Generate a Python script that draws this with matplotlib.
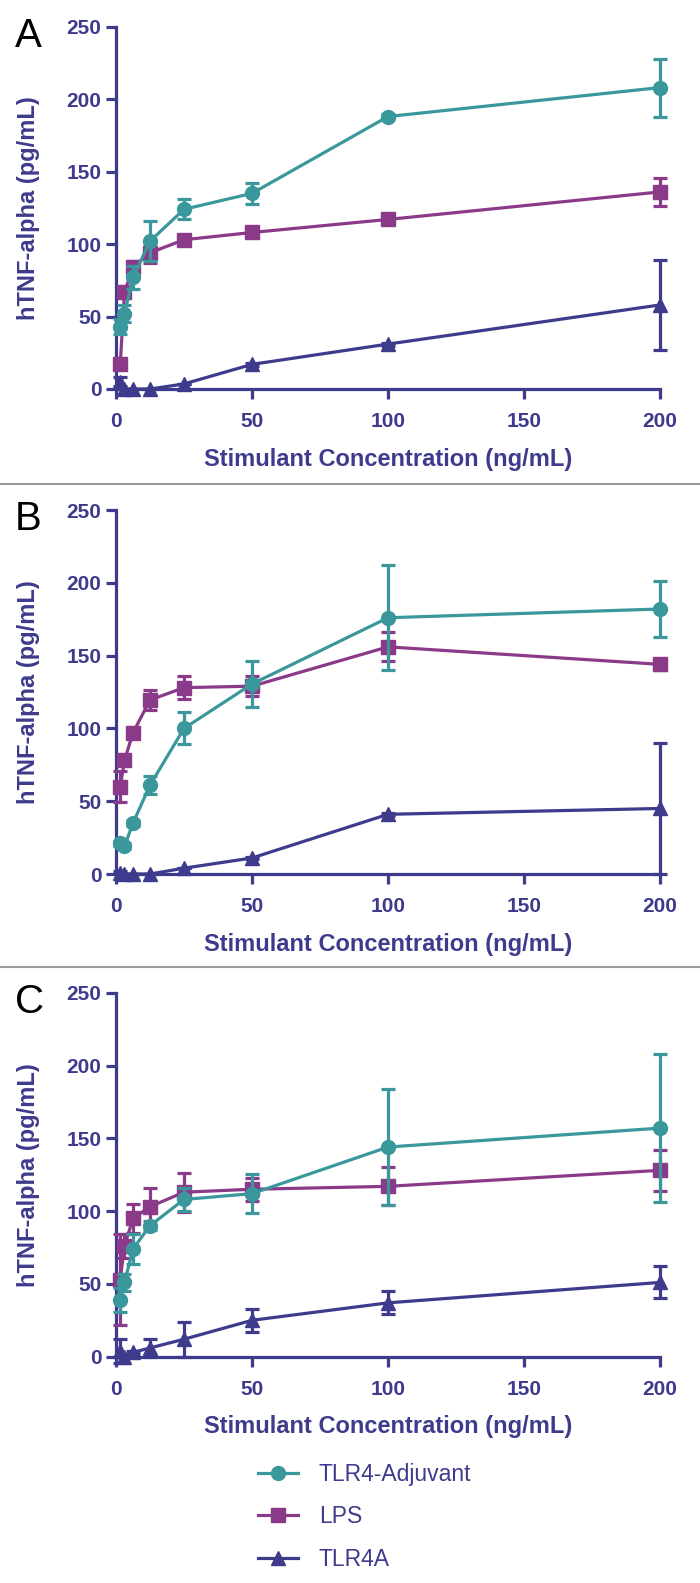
import matplotlib
matplotlib.use("Agg")
import matplotlib.pyplot as plt
from matplotlib.lines import Line2D

plt.rcParams['font.family'] = ['Liberation Sans', 'DejaVu Sans']

# ---------------- data ----------------
conc = [1.5625, 3.125, 6.25, 12.5, 25, 50, 100, 200]
series_names = ["TLR4-Adjuvant", "LPS", "TLR4A"]
panel_labels = ["A", "B", "C"]
x_ticks = [0, 50, 100, 150, 200]
y_ticks = [0, 50, 100, 150, 200, 250]

# Panel A
a_adj = [43, 52, 77, 102, 124, 135, 188, 208]
a_adj_err = [5, 6, 8, 14, 7, 7, 2, 20]
a_lps = [17, 67, 84, 94, 103, 108, 117, 136]
a_lps_err = [2, 3, 4, 7, 3, 2, 2, 9.5]
a_tlr = [5, 0, 0, 0, 3.5, 17, 31, 58]
a_tlr_err = [3, 0, 0, 0, 0, 1, 1, 31]

# Panel B
b_adj = [21, 19, 35, 61, 100, 130.5, 176, 182]
b_adj_err = [2, 2, 2, 6, 11, 16, 36, 19]
b_lps = [60, 78, 97, 119.5, 128, 129, 156, 144]
b_lps_err = [10.5, 3, 3, 7, 8, 7, 10, 4]
b_tlr = [1, 0, 0, 0, 4, 11, 41, 45]
b_tlr_err = [1, 0, 0, 0, 0, 1, 1, 45]

# Panel C
c_adj = [39, 51, 74, 90, 108, 112, 144, 157]
c_adj_err = [8, 6, 10, 3, 8, 13.5, 40, 51]
c_lps = [53, 76, 95, 103, 113, 115, 117, 128]
c_lps_err = [31, 8, 10, 13, 13.5, 8, 13, 14]
c_tlr = [4, 0, 3, 6, 12, 25, 37, 51]
c_tlr_err = [8, 0, 1, 6, 12, 8, 8, 11]

panels = [
    (a_adj, a_adj_err, a_lps, a_lps_err, a_tlr, a_tlr_err),
    (b_adj, b_adj_err, b_lps, b_lps_err, b_tlr, b_tlr_err),
    (c_adj, c_adj_err, c_lps, c_lps_err, c_tlr, c_tlr_err),
]

# ---------------- style ----------------
C_ADJ = '#3A979C'
C_LPS = '#8A3A88'
C_TLR = '#3E3B8C'
C_AX = '#3E3B8C'
W, H = 700, 1583

fig = plt.figure(figsize=(W / 100, H / 100), dpi=100)

geom = [(26.7, 389.0), (510.0, 874.0), (992.7, 1356.7)]
left_px, right_px = 116, 660
letter_base = [47, 530, 1013]

for i, ((adj, adj_e, lps, lps_e, tlr, tlr_e), (top, bot)) in enumerate(zip(panels, geom)):
    ax = fig.add_axes([left_px / W, 1 - bot / H, (right_px - left_px) / W, (bot - top) / H])
    ax.set_xlim(0, 200)
    ax.set_ylim(0, 250)
    for sp in ['top', 'right']:
        ax.spines[sp].set_visible(False)
    for sp in ['left', 'bottom']:
        ax.spines[sp].set_color(C_AX)
        ax.spines[sp].set_linewidth(2.3)
    ax.set_xticks(x_ticks)
    ax.set_yticks(y_ticks)
    ax.tick_params(axis='both', colors=C_AX, width=2.3, length=7.5,
                   labelsize=15)
    ax.tick_params(axis='x', pad=9)
    ax.tick_params(axis='y', pad=3)
    for lab in ax.get_xticklabels() + ax.get_yticklabels():
        lab.set_fontweight('bold')
        lab.set_color(C_AX)
    ax.set_xlabel("Stimulant Concentration (ng/mL)", fontsize=17,
                  fontweight='bold', color=C_AX, labelpad=12)

    common = dict(linewidth=2.3, elinewidth=2.3, capsize=5, capthick=2.3,
                  markersize=10, clip_on=False)
    ax.errorbar(conc, tlr, yerr=tlr_e, color=C_TLR, marker='^', zorder=3,
                **common)
    ax.errorbar(conc, lps, yerr=lps_e, color=C_LPS, marker='s', zorder=4,
                **common)
    ax.errorbar(conc, adj, yerr=adj_e, color=C_ADJ, marker='o', zorder=5,
                **common)

    fig.text(29 / W, 1 - ((top + bot) / 2) / H, "hTNF-alpha (pg/mL)",
             rotation=90, ha='center', va='center', fontsize=17,
             fontweight='bold', color=C_AX)
    fig.text(15 / W, 1 - letter_base[i] / H, panel_labels[i], fontsize=29,
             color='black', ha='left', va='baseline')

for ypx in [483.7, 967.3]:
    fig.add_artist(Line2D([0, 1], [1 - ypx / H, 1 - ypx / H],
                          transform=fig.transFigure, color='#9a9a9a',
                          linewidth=1.5))

handles = [
    Line2D([], [], color=C_ADJ, marker='o', lw=2.3, markersize=10),
    Line2D([], [], color=C_LPS, marker='s', lw=2.3, markersize=10),
    Line2D([], [], color=C_TLR, marker='^', lw=2.3, markersize=10),
]
leg = fig.legend(handles, series_names, loc='upper left',
                 bbox_to_anchor=(258 / W, 1 - 1463 / H), frameon=False,
                 fontsize=16.5, handlelength=1.75, handletextpad=0.9,
                 labelspacing=0.85, borderpad=0, borderaxespad=0)
for t in leg.get_texts():
    t.set_color(C_AX)

fig.savefig("out.png", dpi=100)
